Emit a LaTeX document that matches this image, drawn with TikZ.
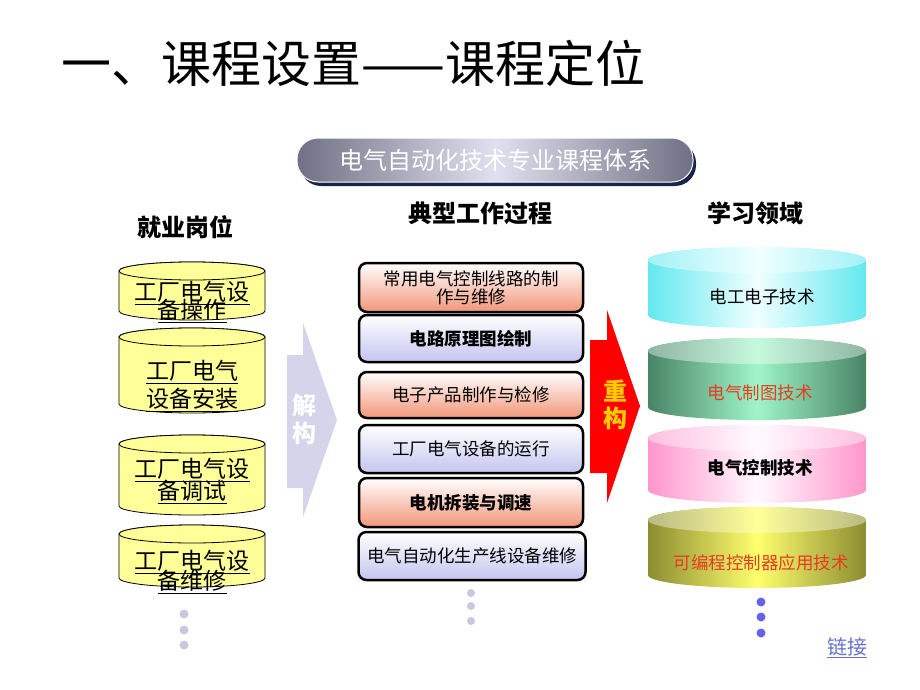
\documentclass[tikz,border=0pt]{standalone}
\usepackage{fontspec}
\setmainfont{Noto Sans CJK SC}
\usetikzlibrary{shadows}
\definecolor{jobyellow}{RGB}{255,255,153}
\definecolor{greyarrow}{RGB}{212,212,234}
\definecolor{peach}{RGB}{242,150,120}
\definecolor{lilac}{RGB}{196,196,240}
\definecolor{bannerdark}{RGB}{112,112,132}
\definecolor{bannerlight}{RGB}{224,224,240}
\definecolor{navy}{RGB}{24,36,72}
\definecolor{cyanedge}{RGB}{100,232,240}
\definecolor{cyanmid}{RGB}{240,255,255}
\definecolor{greenedge}{RGB}{72,132,102}
\definecolor{greenmid}{RGB}{160,245,200}
\definecolor{pinkedge}{RGB}{255,150,204}
\definecolor{pinkmid}{RGB}{255,250,255}
\definecolor{oliveedge}{RGB}{140,140,50}
\definecolor{olivemid}{RGB}{255,255,110}
\definecolor{fieldred}{RGB}{230,60,30}
\definecolor{dotgrey}{RGB}{200,200,222}
\definecolor{dotblue}{RGB}{100,100,235}
\definecolor{linkblue}{RGB}{100,115,205}
\definecolor{gold}{RGB}{255,204,0}
% cylinder: centre x, top y, bottom y, half width, half height of the ends, body style, top style
\newcommand{\drawcyl}[7]{%
\path[#6] (#1-#4,#2-#5) -- (#1-#4,#3+#5) arc (180:360:#4 and #5) -- (#1+#4,#2-#5) arc (0:180:#4 and #5) -- cycle;
\path[#7] (#1,#2-#5) ellipse (#4 and #5);
}
\begin{document}
\begin{tikzpicture}[line cap=round,line join=round,x=1pt,y=1pt,
head/.style={font=\fontsize{24}{24}\selectfont\bfseries},
jobtext/.style={align=center,execute at begin node={\lineskiplimit=-50pt}},
workbox/.style={draw,line width=2.5pt,rounded corners=8pt,minimum width=224pt,align=center,
  top color=white,font=\fontsize{17.5}{18}\selectfont,execute at begin node={\lineskiplimit=-50pt}},
peachbox/.style={workbox,bottom color=peach},
lilacbox/.style={workbox,bottom color=lilac},
fieldtext/.style={font=\fontsize{17.5}{18}\selectfont},
barrel/.style 2 args={left color=#1,right color=#1,middle color=#2}]
\useasboundingbox (0,0) rectangle (920,-690);

\node[anchor=west,font=\fontsize{50}{50}\selectfont] (title) at (58,-63) {一、课程设置——课程定位};

\node (banner) [rounded corners=21pt,minimum width=396pt,minimum height=44pt,
  barrel={bannerdark}{bannerlight},draw=white,line width=1pt,
  drop shadow={shadow xshift=3pt,shadow yshift=-4pt,fill=navy,opacity=1},
  text=white,font=\fontsize{24}{24}\selectfont] at (495,-160) {电气自动化技术专业课程体系};

\node[head] (jobs) at (185,-227) {就业岗位};
\node[head] (steps) at (480,-213) {典型工作过程};
\node[head] (fields) at (755,-213) {学习领域};

% jobs
\foreach \t/\b in {-262/-320,-328/-413,-435/-515,-525/-587}
{
\drawcyl{192}{\t}{\b}{73}{9}{fill=jobyellow,draw=black,line width=0.8pt}{fill=jobyellow,draw=black,line width=0.8pt}
}
\node[jobtext,font=\fontsize{23}{18}\selectfont] (job1) at (192,-302) {\underline{工厂电气设}\\\underline{备操作}};
\node[jobtext,font=\fontsize{23}{28}\selectfont] (job2) at (192,-386) {\underline{工厂电气}\\\underline{设备安装}};
\node[jobtext,font=\fontsize{23}{22}\selectfont] (job3) at (192,-481) {\underline{工厂电气设}\\\underline{备调试}};
\node[jobtext,font=\fontsize{23}{20}\selectfont] (job4) at (192,-572) {\underline{工厂电气设}\\\underline{备维修}};
\foreach \y in {-614,-630,-645}
{
\fill[dotgrey] (184,\y) circle (4.5);
}

% decompose arrow
\fill[greyarrow] (287,-355) -- (303,-355) -- (303,-323) -- (337,-420) -- (303,-517) -- (303,-488) -- (287,-488) -- cycle;
\node[text=white,font=\fontsize{24}{28}\selectfont\bfseries,align=center] (split) at (304,-419) {解\\构};

% work processes
\node[peachbox,minimum height=49pt] (work1) at (471,-287.5) {常用电气控制线路的制\\作与维修};
\node[lilacbox,minimum height=47pt,font=\fontsize{17.5}{18}\selectfont\bfseries] (work2) at (471,-338.5) {电路原理图绘制};
\node[peachbox,minimum height=46pt] (work3) at (471,-395) {电子产品制作与检修};
\node[lilacbox,minimum height=48pt] (work4) at (471,-449) {工厂电气设备的运行};
\node[peachbox,minimum height=49pt,font=\fontsize{17.5}{18}\selectfont\bfseries] (work5) at (471,-502.5) {电机拆装与调速};
\node[lilacbox,minimum height=48pt,minimum width=227pt] (work6) at (472,-556) {电气自动化生产线设备维修};
\foreach \y in {-593,-606,-621}
{
\fill[dotgrey] (471,\y) circle (4);
}

% rebuild arrow
\fill[red] (590,-340) -- (607,-340) -- (607,-310) -- (640,-406) -- (607,-503) -- (607,-473) -- (590,-473) -- cycle;
\node[text=gold,font=\fontsize{24}{27}\selectfont\bfseries,align=center] (merge) at (615,-405) {重\\构};

% learning fields
\drawcyl{757}{-247}{-328}{109}{13}{barrel={cyanedge}{cyanmid}}{barrel={cyanedge!60!white}{cyanmid}}
\drawcyl{757}{-338}{-420}{109}{13}{barrel={greenedge}{greenmid}}{barrel={greenedge!60!white}{greenmid!60!white}}
\drawcyl{757}{-425}{-503}{109}{13}{barrel={pinkedge}{pinkmid}}{barrel={pinkedge!60!white}{pinkmid}}
\drawcyl{757}{-507}{-588}{109}{13}{barrel={oliveedge}{olivemid}}{barrel={oliveedge!60!white}{olivemid!70!white}}
\node[fieldtext] (field1) at (762,-297) {电工电子技术};
\node[fieldtext,text=fieldred] (field2) at (760,-393) {电气制图技术};
\node[fieldtext,font=\fontsize{17.5}{18}\selectfont\bfseries] (field3) at (760,-468) {电气控制技术};
\node[fieldtext,text=fieldred] (field4) at (761,-563) {可编程控制器应用技术};
\foreach \y in {-602,-617,-633}
{
\fill[dotblue] (761,\y) circle (4.5);
}

\node[text=linkblue,font=\fontsize{20}{20}\selectfont] (link) at (847,-648) {\underline{链接}};
\end{tikzpicture}
\end{document}
